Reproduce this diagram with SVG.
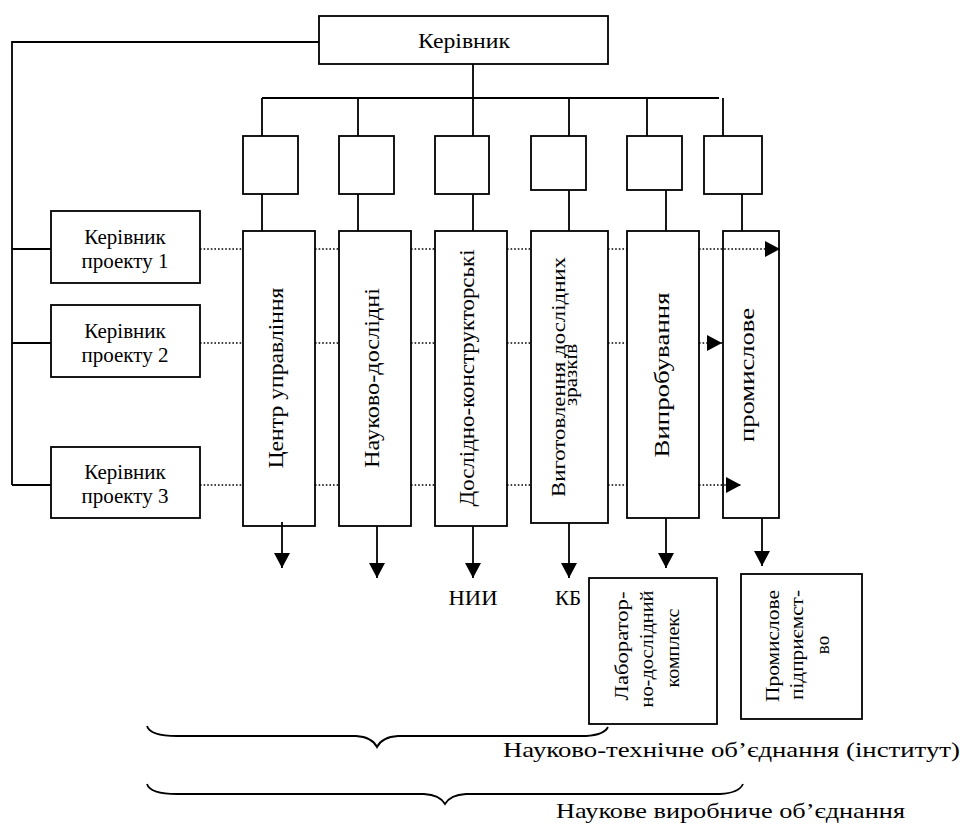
<svg xmlns="http://www.w3.org/2000/svg" width="962" height="827" viewBox="0 0 962 827" font-family="Liberation Serif, DejaVu Serif, serif">
<style>
.b{fill:#fff;stroke:#000;stroke-width:1.8}
.l{fill:none;stroke:#000;stroke-width:1.8}
.d{fill:none;stroke:#000;stroke-width:1.6;stroke-dasharray:1.6 2}
.br{fill:none;stroke:#000;stroke-width:1.8}
text{font-family:'Liberation Serif','DejaVu Serif',serif;fill:#000}
.h{font-size:21px;text-anchor:middle}
.v{font-size:21px;text-anchor:middle}
.s{font-size:19px;text-anchor:middle}
</style>
<defs>
<marker id="ah" viewBox="0 0 15 16" refX="15" refY="8" markerWidth="15" markerHeight="16" markerUnits="userSpaceOnUse" orient="auto">
<path d="M0,0 L15,8 L0,16 z" fill="#000" stroke="none"/>
</marker>
</defs>

<g id="head">
<rect class="b" x="319" y="16" width="289" height="48"/>
<text class="h" x="464" y="48" font-size="22" textLength="92" lengthAdjust="spacingAndGlyphs">Керівник</text>
</g>

<g id="sub1"><rect class="b" x="243" y="136" width="55" height="58"/></g>
<g id="sub2"><rect class="b" x="339" y="136" width="55" height="58"/></g>
<g id="sub3"><rect class="b" x="435" y="136" width="54" height="58"/></g>
<g id="sub4"><rect class="b" x="531" y="136" width="55" height="54"/></g>
<g id="sub5"><rect class="b" x="627" y="136" width="55" height="54"/></g>
<g id="sub6"><rect class="b" x="704" y="136" width="58" height="58"/></g>

<g id="pm1">
<rect class="b" x="51" y="211" width="149" height="72"/>
<text class="h" x="125" y="244">Керівник</text>
<text class="h" x="125" y="268">проекту 1</text>
</g>
<g id="pm2">
<rect class="b" x="51" y="305" width="149" height="72"/>
<text class="h" x="125" y="338">Керівник</text>
<text class="h" x="125" y="362">проекту 2</text>
</g>
<g id="pm3">
<rect class="b" x="51" y="447" width="149" height="71"/>
<text class="h" x="125" y="479">Керівник</text>
<text class="h" x="125" y="503">проекту 3</text>
</g>

<g id="col1">
<rect class="b" x="243" y="231" width="72" height="295"/>
<text class="v" transform="translate(283,378) rotate(-90)" textLength="181" lengthAdjust="spacingAndGlyphs">Центр управління</text>
</g>
<g id="col2">
<rect class="b" x="339" y="231" width="72" height="295"/>
<text class="v" transform="translate(379,378) rotate(-90)" textLength="180" lengthAdjust="spacingAndGlyphs">Науково-дослідні</text>
</g>
<g id="col3">
<rect class="b" x="435" y="231" width="72" height="295"/>
<text class="v" transform="translate(474,378) rotate(-90)" textLength="257" lengthAdjust="spacingAndGlyphs">Дослідно-конструкторські</text>
</g>
<g id="col4">
<rect class="b" x="531" y="231" width="77" height="292"/>
<text class="s" transform="translate(565,377) rotate(-90)" textLength="240" lengthAdjust="spacingAndGlyphs">Виготовлення дослідних</text>
<text class="s" transform="translate(577,375) rotate(-90)" textLength="62" lengthAdjust="spacingAndGlyphs">зразків</text>
</g>
<g id="col5">
<rect class="b" x="627" y="231" width="72" height="287"/>
<text class="v" transform="translate(669,375) rotate(-90)" textLength="165" lengthAdjust="spacingAndGlyphs">Випробування</text>
</g>
<g id="col6">
<rect class="b" x="723" y="231" width="56" height="287"/>
<text class="v" transform="translate(754,375) rotate(-90)" textLength="134" lengthAdjust="spacingAndGlyphs">промислове</text>
</g>

<g id="nii"><text class="h" x="473" y="605" textLength="49" lengthAdjust="spacingAndGlyphs">НИИ</text></g>
<g id="kb"><text class="h" x="568" y="605">КБ</text></g>

<g id="lab">
<rect class="b" x="589" y="578" width="128" height="146"/>
<text class="s" transform="translate(628,646) rotate(-90)" textLength="109" lengthAdjust="spacingAndGlyphs">Лаборатор-</text>
<text class="s" transform="translate(653,649) rotate(-90)" textLength="117" lengthAdjust="spacingAndGlyphs">но-дослідний</text>
<text class="s" transform="translate(679,648) rotate(-90)" textLength="79" lengthAdjust="spacingAndGlyphs">комплекс</text>
</g>
<g id="plant">
<rect class="b" x="741" y="574" width="121" height="145"/>
<text class="s" transform="translate(779,646) rotate(-90)" textLength="112" lengthAdjust="spacingAndGlyphs">Промислове</text>
<text class="s" transform="translate(803,645) rotate(-90)" textLength="110" lengthAdjust="spacingAndGlyphs">підприємст-</text>
<text class="s" transform="translate(829,645) rotate(-90)">во</text>
</g>

<g id="braces">
<path class="br" d="M147,726 Q150,736 177,736 L356,736 Q372,737 377,747 Q382,737 398,736 L586,736 Q604,735 608,727"/>
<path class="br" d="M147,784 Q150,794 177,794 L424,794 Q440,795 445,804 Q450,795 466,794 L720,794 Q739,793 743,784"/>
<text x="503" y="757" font-size="22" textLength="457" lengthAdjust="spacingAndGlyphs">Науково-технічне об’єднання (інститут)</text>
<text x="556" y="818" font-size="22" textLength="349" lengthAdjust="spacingAndGlyphs">Наукове виробниче об’єднання</text>
</g>

<g id="connectors">
<path class="l" d="M319,42 H12 V485"/>
<path class="l" d="M12,249 H51 M12,343 H51 M12,485 H51"/>
<path class="l" d="M473,64 V98 M262,98 H719 M723,98 V136"/>
<path class="l" d="M262,98 V136 M358,98 V136 M473,98 V136 M569,98 V136 M647,98 V136"/>
<path class="l" d="M262,194 V231 M358,194 V231 M473,194 V231 M569,190 V231 M666,190 V231 M742,194 V231"/>
<path class="d" d="M200,249 H243 M315,249 H339 M411,249 H435 M507,249 H531 M608,249 H627"/>
<path class="d" d="M200,343 H243 M315,343 H339 M411,343 H435 M507,343 H531 M608,343 H627"/>
<path class="d" d="M200,485 H243 M315,485 H339 M411,485 H435 M507,485 H531 M608,485 H627"/>
<path class="d" d="M699,249 H780" marker-end="url(#ah)"/>
<path class="d" d="M699,343 H722" marker-end="url(#ah)"/>
<path class="d" d="M699,485 H741" marker-end="url(#ah)"/>
<path class="l" d="M282,522 V568" marker-end="url(#ah)"/>
<path class="l" d="M377,526 V578" marker-end="url(#ah)"/>
<path class="l" d="M473,526 V578" marker-end="url(#ah)"/>
<path class="l" d="M569,523 V578" marker-end="url(#ah)"/>
<path class="l" d="M666,518 V568" marker-end="url(#ah)"/>
<path class="l" d="M762,518 V566" marker-end="url(#ah)"/>
</g>
</svg>
